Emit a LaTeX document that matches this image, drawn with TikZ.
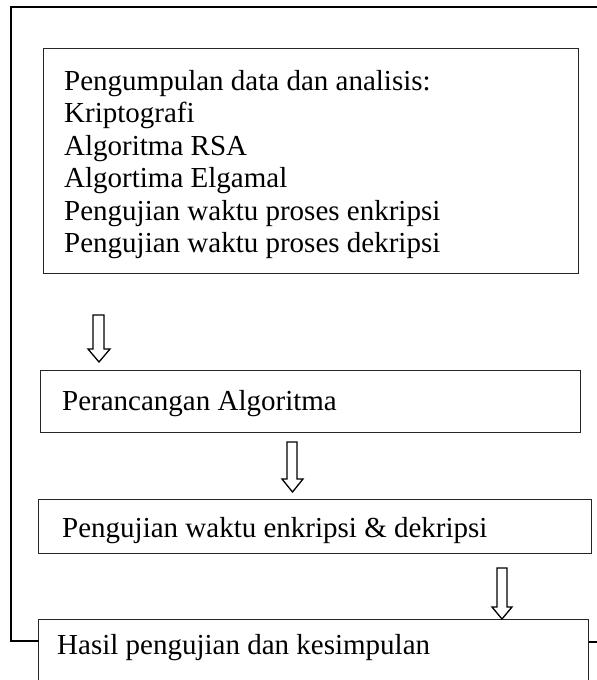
\documentclass[tikz,border=0pt]{standalone}
\usepackage{fontspec}
\setmainfont{Liberation Serif}
\begin{document}
\begin{tikzpicture}[x=1pt,y=-1pt,
  box/.style={draw=black!85,line width=1.1pt,anchor=north west,inner sep=0pt},
  txt/.style={anchor=base west,inner sep=0pt,font=\fontsize{29}{32}\selectfont},
  frame/.style={draw=black,line width=1.6pt},
  blockarrow/.style={draw=black,line width=1.3pt,line join=miter,fill=white}]
\useasboundingbox (0,0) rectangle (597,680);
\clip (0,0) rectangle (597,680);
% boxes
\node[box,minimum width=535pt,minimum height=225pt] (b1) at (43,48) {};
\node[box,minimum width=540pt,minimum height=62pt] (b2) at (40,370) {};
\node[box,minimum width=553pt,minimum height=54pt] (b3) at (38,499) {};
\node[box,minimum width=550pt,minimum height=90pt] (b4) at (38,619) {};
% texts
\node[txt] (t1a) at (64,90) {Pengumpulan data dan analisis:};
\node[txt] (t1b) at (64,122.5) {Kriptografi};
\node[txt] (t1c) at (64,155) {Algoritma RSA};
\node[txt] (t1d) at (64,187.5) {Algortima Elgamal};
\node[txt] (t1e) at (64,220) {Pengujian waktu proses enkripsi};
\node[txt] (t1f) at (64,252.5) {Pengujian waktu proses dekripsi};
\node[txt] (t2) at (62,410) {Perancangan Algoritma};
\node[txt] (t3) at (62,537) {Pengujian waktu enkripsi \& dekripsi};
\node[txt] (t4) at (57,654) {Hasil pengujian dan kesimpulan};
% outer frame
\coordinate (ftl) at (11,7);
\coordinate (ftr) at (598,7);
\coordinate (fbl) at (11,641);
\coordinate (fr1) at (b4.north east |- 0,642);
\coordinate (fr2) at (598,642);
\draw[frame,line cap=rect] (ftr) -- (ftl) -- (fbl) -- (b4.west |- fbl);
\draw[line width=1.1pt] (fr1) -- (fr2);
% block arrows
\newcommand{\blockarr}[7]{% shaft-left shaft-right head-left head-right top headstart tip
  \draw[blockarrow] (#1,#5) -- (#2,#5) -- (#2,#6) -- (#4,#6) -- ({(#3+#4)/2},#7) -- (#3,#6) -- (#1,#6) -- cycle;}
\blockarr{93}{104}{88}{110}{315}{349}{362}
\blockarr{287}{297}{282}{303}{442}{479}{492}
\blockarr{497}{507}{492}{512}{568}{607}{619}
\end{tikzpicture}
\end{document}
